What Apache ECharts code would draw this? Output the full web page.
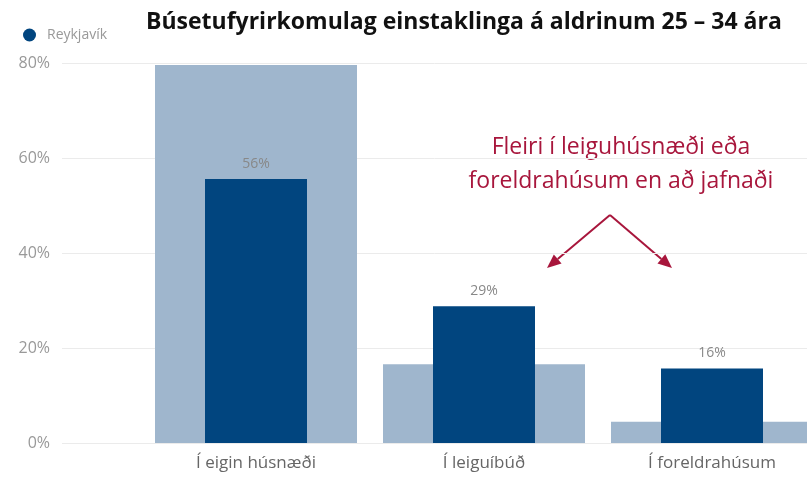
<!DOCTYPE html>
<html>
<head>
<meta charset="utf-8">
<script src="https://cdn.jsdelivr.net/npm/echarts@6/dist/echarts.min.js"></script>
<style>
html,body{margin:0;padding:0;background:#fff;}
#chart{width:807px;height:477px;}
</style>
</head>
<body>
<div id="chart"></div>
<script>
var categories = ["Í eigin húsnæði", "Í leiguíbúð", "Í foreldrahúsum"];
var landidValues = [79.6, 16.6, 4.5];      // ljósari súlur (bakgrunnur)
var reykjavikValues = [55.6, 28.8, 15.7];  // Reykjavík
var yTicks = [0, 20, 40, 60, 80];

var arrowColor = "#a8163c";

function arrow(x1, y1, x2, y2){
	var dx = x2 - x1, dy = y2 - y1;
	var len = Math.sqrt(dx * dx + dy * dy);
	var ux = dx / len, uy = dy / len;
	var bx = x2 - ux * 14, by = y2 - uy * 14;
	return [{
		type : "line",
		shape : { x1 : x1, y1 : y1, x2 : bx, y2 : by },
		style : { stroke : arrowColor, lineWidth : 2 }
	}, {
		type : "polygon",
		shape : { points : [[x2, y2], [bx - uy * 6, by + ux * 6], [bx + uy * 6, by - ux * 6]] },
		style : { fill : arrowColor }
	}];
}

function drawChart(){
	var myChart = echarts.init(document.getElementById('chart'));
	var font = "'Open Sans', 'Noto Sans', sans-serif";
	var option = {
		animation : false,
		textStyle : { fontFamily : font },
		title : {
			text : "Búsetufyrirkomulag einstaklinga á aldrinum 25 – 34 ára",
			left : 141, top : 6,
			textStyle : { fontSize : 23, fontWeight : "bold", color : "#111", fontFamily : font }
		},
		legend : {
			data : ["Reykjavík"],
			left : 18, top : 23,
			icon : "circle", itemWidth : 13, itemHeight : 13, itemGap : 6,
			textStyle : { color : "#999", fontSize : 14, padding : [0, 0, 0, 6] }
		},
		grid : [
			{ left : 62, top : 63, width : 745, height : 380, outerBoundsMode : "none" },
			{ left : 142, top : 63, width : 684, height : 380, outerBoundsMode : "none" }
		],
		xAxis : [
			{ gridIndex : 0, type : "value", show : false },
			{
				gridIndex : 1, type : "category", data : categories,
				axisLine : { show : false }, axisTick : { show : false },
				axisLabel : { color : "#666", fontSize : 17, margin : 12 }
			},
			{ gridIndex : 1, type : "category", data : categories, show : false }
		],
		yAxis : [
			{
				gridIndex : 0, type : "value", min : 0, max : 80, interval : 20,
				axisLine : { show : false }, axisTick : { show : false },
				axisLabel : { color : "#999", fontSize : 16, margin : 12, formatter : "{value}%" },
				splitLine : { lineStyle : { color : "#ebebeb", width : 1 } }
			},
			{ gridIndex : 1, type : "value", min : 0, max : 80, show : false }
		],
		series : [
			{
				name : "Landið", type : "bar",
				xAxisIndex : 1, yAxisIndex : 1,
				data : landidValues, barWidth : 202,
				itemStyle : { color : "#9fb6cd" }
			},
			{
				name : "Reykjavík", type : "bar",
				xAxisIndex : 2, yAxisIndex : 1,
				data : reykjavikValues, barWidth : 102,
				itemStyle : { color : "#01457f" },
				label : {
					show : true, position : "top", distance : 8,
					color : "#888", fontSize : 14,
					formatter : function(p){ return Math.round(p.value) + "%"; }
				}
			}
		],
		graphic : [{
			type : "text", x : 621, y : 130,
			style : {
				text : "Fleiri í leiguhúsnæði eða\nforeldrahúsum en að jafnaði",
				fill : arrowColor, font : "23px " + font,
				align : "center", verticalAlign : "top", lineHeight : 34
			}
		}].concat(arrow(610, 215, 547, 268), arrow(610, 215, 672, 268))
	};
	myChart.setOption(option);
}

drawChart();
</script>
</body>
</html>
